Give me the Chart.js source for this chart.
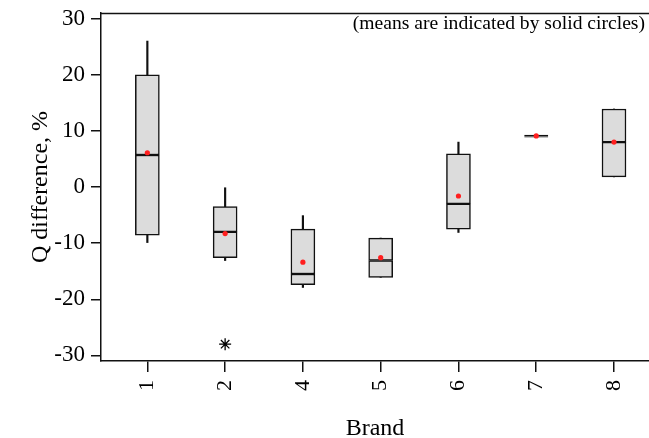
<!DOCTYPE html>
<html>
<head>
<meta charset="utf-8">
<script src="https://cdn.jsdelivr.net/npm/chart.js@4"></script>
<style>
  html, body { margin: 0; padding: 0; background: #fff; }
  canvas { display: block; }
</style>
</head>
<body>
<canvas id="c" width="649" height="438"></canvas>
<script>
// ---- data ----
const brands      = ['1', '2', '4', '5', '6', '7', '8'];
const positions   = [1, 2, 3, 4, 5, 6, 7];
const whiskerLow  = [-9.9, -13.1, -17.9, -16.1, -8.1, 8.8, 1.8];
const q1          = [-8.6, -12.6, -17.4, -16.1, -7.5, 8.8, 1.8];
const median      = [5.7, -8.0, -15.5, -13.1, -3.0, 9.05, 8.0];
const q3          = [20.0, -3.5, -7.5, -9.1, 5.9, 9.3, 13.9];
const whiskerHigh = [26.0, 0.0, -5.1, -9.1, 8.0, 9.3, 13.9];
const means       = [6.1, -8.3, -13.4, -12.6, -1.6, 9.1, 8.0];
const outlierBrand = ['2'];
const outlierValue = [-28.0];
const yTicks      = [-30, -20, -10, 0, 10, 20, 30];
const yTickLabels = ['-30', '-20', '-10', '0', '10', '20', '30'];
const note = '(means are indicated by solid circles)';

const posOf = b => positions[brands.indexOf(b)];

const boxFill = '#dcdcdc';
const ink = '#111111';
const serif = "'Liberation Serif', 'Times New Roman', serif";
// flat boxes (almost no spread) are drawn as a solid line
const inflateFor = c => (q3[c.dataIndex] - q1[c.dataIndex] < 1 ? 0 : 0.33);

const framePlugin = {
  id: 'frameAndNote',
  afterDraw(chart) {
    const { ctx, chartArea } = chart;
    ctx.save();
    ctx.strokeStyle = ink;
    ctx.lineWidth = 1.5;
    ctx.beginPath();
    ctx.moveTo(chartArea.left, chartArea.top + 0.5);
    ctx.lineTo(chartArea.right, chartArea.top + 0.5);
    ctx.stroke();
    ctx.fillStyle = '#000';
    ctx.font = '19.6px ' + serif;
    ctx.textAlign = 'right';
    ctx.textBaseline = 'middle';
    ctx.fillText(note, chartArea.right - 4, chartArea.top + 11);
    ctx.restore();
  }
};

new Chart(document.getElementById('c'), {
  type: 'bar',
  data: {
    datasets: [
      {
        label: 'upper whisker',
        data: positions.map((p, i) => ({ x: p, y: [q3[i], whiskerHigh[i]] })),
        backgroundColor: ink, borderWidth: 0,
        barThickness: 1.5, grouped: false, order: 5
      },
      {
        label: 'lower whisker',
        data: positions.map((p, i) => ({ x: p, y: [whiskerLow[i], q1[i]] })),
        backgroundColor: ink, borderWidth: 0,
        barThickness: 1.5, grouped: false, order: 5
      },
      {
        label: 'lower box',
        data: positions.map((p, i) => ({ x: p, y: [q1[i], median[i]] })),
        backgroundColor: boxFill, borderColor: ink, borderWidth: 1.5, inflateAmount: inflateFor,
        borderSkipped: false, barThickness: 24, grouped: false, order: 4
      },
      {
        label: 'upper box',
        data: positions.map((p, i) => ({ x: p, y: [median[i], q3[i]] })),
        backgroundColor: boxFill, borderColor: ink, borderWidth: 1.5, inflateAmount: inflateFor,
        borderSkipped: false, barThickness: 24, grouped: false, order: 3
      },
      {
        type: 'scatter',
        label: 'mean',
        data: positions.map((p, i) => ({ x: p, y: means[i] })),
        pointStyle: 'circle', pointRadius: 2.6,
        backgroundColor: '#ff1f1f', borderColor: '#ff1f1f', borderWidth: 0,
        showLine: false, order: 1
      },
      {
        type: 'scatter',
        label: 'outlier',
        data: outlierBrand.map((b, i) => ({ x: posOf(b), y: outlierValue[i] })),
        pointStyle: 'star', pointRadius: 6,
        borderColor: '#000', backgroundColor: '#000', borderWidth: 1.3,
        showLine: false, order: 1
      }
    ]
  },
  options: {
    responsive: false,
    animation: false,
    events: [],
    layout: { autoPadding: false, padding: { left: 0, top: 13, right: 0, bottom: 0 } },
    plugins: { legend: { display: false }, tooltip: { enabled: false } },
    scales: {
      x: {
        type: 'linear',
        offset: false,
        min: 0.404,
        max: 7.45,
        afterBuildTicks: s => { s.ticks = positions.map(v => ({ value: v })); },
        afterFit: s => { s.height = 77; s.paddingLeft = 0; s.paddingRight = 0; },
        grid: { offset: false, drawOnChartArea: false, drawTicks: true, tickLength: 11, color: ink, lineWidth: 1.5 },
        border: { display: true, color: ink, width: 1.5 },
        ticks: {
          minRotation: 90, maxRotation: 90, autoSkip: false, padding: 8,
          color: '#000', font: { family: serif, size: 22 },
          callback: v => brands[positions.indexOf(v)] ?? ''
        },
        title: {
          display: true, text: 'Brand', color: '#000',
          font: { family: serif, size: 24, lineHeight: 0.8 },
          padding: { top: 0, bottom: 0 }
        }
      },
      y: {
        type: 'linear',
        min: -31,
        max: 31,
        afterBuildTicks: s => { s.ticks = yTicks.map(v => ({ value: v })); },
        afterFit: s => { s.width = 101; s.paddingTop = 0; s.paddingBottom = 0; },
        grid: { drawOnChartArea: false, drawTicks: true, tickLength: 10, color: ink, lineWidth: 1.5 },
        border: { display: true, color: ink, width: 1.5 },
        ticks: {
          padding: 6, color: '#000', font: { family: serif, size: 23 },
          callback: v => yTickLabels[yTicks.indexOf(v)] ?? ''
        },
        title: {
          display: true, text: 'Q difference, %', color: '#000',
          font: { family: serif, size: 24, lineHeight: 1.2 },
          padding: { top: 26, bottom: 26 }
        }
      }
    }
  },
  plugins: [framePlugin]
});
</script>
</body>
</html>
